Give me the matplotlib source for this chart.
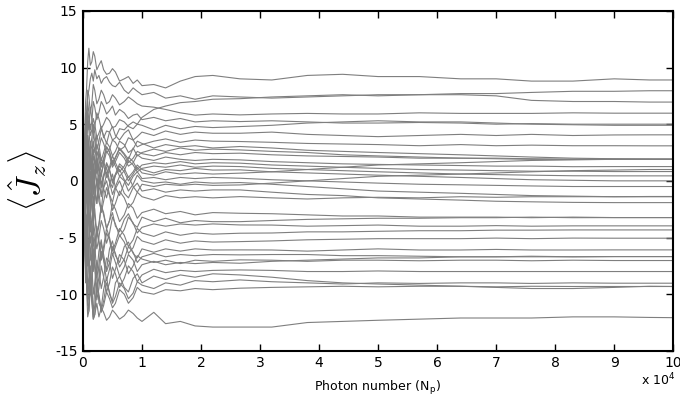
import matplotlib
matplotlib.use("Agg")
import matplotlib.pyplot as plt

# photon number, in units of 10^4 (dense where the runs are noisy)
X_EARLY = [0, 0.015, 0.03, 0.045, 0.06, 0.08, 0.1, 0.125, 0.15, 0.175, 0.2, 0.235, 0.27,
           0.31, 0.35, 0.4, 0.45, 0.5, 0.55, 0.62, 0.7, 0.77, 0.85, 0.92, 1.0]
X_LATE = [1.2, 1.4, 1.65, 1.9, 2.2, 2.66, 3.2, 3.8, 4.4, 5.0, 5.7, 6.4, 7.0, 7.6, 8.3, 9.0, 9.6, 10]

# <Jz> for each run: first part up to 1e4 photons ...
JZ_EARLY = [
    [0, 3, 4, 7, 8, 10.5, 11.7, 10.2, 10.5, 11.4, 11.0, 9.8, 10.2, 10.6, 9.8, 9.4, 9.5, 9.9, 9.6, 8.8, 9.0, 9.2, 8.6, 8.9, 8.4],
    [0, 1, 3, 5, 6, 7.5, 8, 9.0, 9.5, 8.8, 9.8, 9.0, 9.3, 8.6, 9.0, 9.2, 8.7, 8.4, 8.3, 8.7, 8.0, 7.7, 8.2, 7.9, 7.6],
    [0, 1.5, 2, 3.5, 4, 6, 5.5, 4.0, 4.5, 5.5, 5.0, 3.8, 4.2, 4.8, 3.8, 4.4, 4.3, 3.6, 3.8, 4.6, 4.5, 4.9, 5.2, 5.0, 5.6],
    [0, 2, 3, 6, 5, 8, 7.5, 6.0, 6.8, 8.5, 8.0, 6.8, 7.2, 8.0, 7.6, 6.8, 7.0, 7.6, 7.3, 6.7, 7.0, 7.4, 7.1, 6.8, 6.6],
    [0, -1, 2, 5, 4, 7, 6, 4.5, 5.2, 7.0, 6.5, 5.4, 6.0, 7.0, 6.6, 5.9, 6.2, 6.6, 5.8, 6.3, 6.0, 5.5, 5.8, 5.9, 5.4],
    [0, 2.5, 1.5, 4, 3, 6, 4.5, 6.5, 5.5, 4.2, 4.8, 6.0, 5.5, 4.6, 5.0, 5.6, 5.3, 4.7, 4.8, 5.4, 5.2, 4.8, 4.6, 5.0, 4.9],
    [0, -2, 1, 2, 3, 5.5, 4.5, 2.8, 3.8, 5.0, 4.2, 2.8, 3.5, 4.6, 4.0, 3.3, 4.3, 4.8, 4.0, 3.6, 4.2, 4.5, 3.6, 3.9, 4.3],
    [0, 1, -1, 0, 1.5, 4, 3, 1.2, 2.0, 4.2, 3.5, 2.2, 2.8, 3.8, 3.3, 2.5, 2.8, 3.6, 3.4, 2.7, 3.0, 3.8, 3.6, 3.0, 3.2],
    [0, 3, 2, 0, 1, 4, 3, 1.0, 1.8, 3.5, 2.5, 4.0, 3.2, 1.8, 2.5, 3.4, 3.0, 2.2, 2.6, 3.5, 3.2, 2.5, 2.8, 3.5, 3.3],
    [0, -1, 1, 3.5, 2.5, 0.5, 1.5, 3.5, 2.8, 1.0, 2.0, 3.2, 2.5, 1.5, 1.8, 3.0, 2.6, 1.6, 2.1, 2.9, 2.4, 1.9, 2.9, 2.2, 2.5],
    [0, 1, -1, -2, 0.5, 3, 2, -0.5, 1.0, 2.8, 1.8, 0.6, 2.6, 1.2, 2.0, 3.0, 2.5, 1.4, 2.0, 2.8, 2.3, 1.6, 2.0, 2.6, 2.4],
    [0, 2, 1, 2.5, -0.5, -1.5, 1.5, 3.0, 0.5, -0.8, 1.2, 2.6, 2.0, 0.6, 1.5, 2.6, 2.2, 1.2, 1.7, 2.5, 2.0, 1.3, 1.6, 2.3, 2.0],
    [0, -1.5, 0.5, 3.5, 2, -0.5, 0.8, 2.5, 1.5, -0.8, 0.3, 2.2, 1.0, 0.4, 1.8, 0.6, 1.2, 2.2, 1.6, 0.8, 1.3, 2.1, 1.7, 1.0, 1.4],
    [0, 1, -0.5, -2, 1, 2.5, -0.5, -1.8, 0.8, 2.2, 1.5, -0.2, 0.6, 2.0, 1.4, 0.3, 1.0, 1.8, 1.3, 0.4, 0.9, 1.8, 1.4, 0.8, 1.1],
    [0, 2.5, 1.5, -1, 0.5, 4, 2.5, 0.5, 1.0, -1.2, 0.0, 2.0, 1.2, -0.3, 0.5, 1.6, 1.0, 0.0, 0.6, 1.5, 1.1, 0.3, 0.8, 1.4, 1.0],
    [0, -2.5, -1, 1.5, 0.5, -2, -0.5, 2.0, 1.0, -1.0, 0.2, 1.8, 0.8, -0.6, 0.3, 1.5, 0.9, -0.2, 0.5, 1.3, 0.8, 0.0, 0.6, 1.2, 0.7],
    [0, -3, -1.5, 1, -0.5, -3, 0.5, 2.0, -0.8, -2.0, 0.3, 1.5, -0.5, -1.2, 0.4, 1.2, 0.0, -0.6, 0.5, 1.0, 0.1, -0.4, 0.4, 0.8, 0.2],
    [0, 2, 0.5, -2.5, -1.0, 1.5, 0.0, -3.0, -1.5, 0.8, -0.5, -2.0, 0.3, -1.4, -0.6, 0.6, -0.1, -1.2, -0.5, 0.4, 0.0, -0.9, -0.3, 0.5, 0.0],
    [0, 1.5, -0.5, -2, 1.0, 2.5, -1.0, -2.2, 0.2, 1.2, -0.8, -2.0, -0.2, 0.8, -0.7, -1.5, -0.3, 0.6, -0.6, -1.3, -0.2, 0.4, -0.5, -1.0, -0.3],
    [0, -3.5, -2, 0.5, -0.5, -3, -1.5, 0.5, -2.5, -3.5, -1.0, 0.2, -1.8, -2.6, -0.6, 0.0, -1.2, -1.9, -0.7, 0.0, -1.1, -1.5, -0.6, -0.2, -0.9],
    [0, -1, 1, 2.5, -1.0, -4, -2.5, 0.0, -1.2, -3.5, -2.0, 0.0, -1.0, -2.8, -1.8, -0.6, -1.3, -2.6, -2.0, -0.9, -1.5, -2.4, -1.9, -1.0, -1.4],
    [0, -1, -2, -5, -4, -1.5, -3, -5.5, -4.5, -2.0, -3.2, -4.8, -4.0, -2.2, -2.8, -4.2, -3.5, -2.0, -2.5, -3.6, -3.0, -2.0, -2.4, -3.3, -2.8],
    [0, 2.5, 1, -1.5, -1, 0.5, -2, -4.5, -3.5, -1.8, -2.5, -4.8, -3.8, -2.2, -3.0, -4.2, -3.5, -2.8, -4.0, -4.5, -3.4, -2.9, -3.8, -4.1, -3.2],
    [0, -1.5, -3, -6, -5, -2.5, -4, -6.5, -5.5, -3.5, -4.5, -6.0, -5.0, -3.5, -4.2, -5.5, -4.6, -3.2, -3.8, -4.9, -4.3, -3.2, -3.7, -4.6, -4.1],
    [0, 0.5, -1.5, -4, -3, -6.5, -5, -2.8, -4, -7.0, -6, -4.0, -5.2, -6.8, -5.8, -4.2, -5.0, -6.2, -5.5, -4.2, -4.8, -5.8, -5.2, -4.2, -4.6],
    [0, -3, -2, -5, -4, -7.5, -6, -3.5, -5, -8.0, -6.5, -4.5, -5.5, -7.0, -6.2, -4.6, -5.2, -6.6, -5.8, -4.8, -5.4, -6.4, -5.9, -4.9, -5.3],
    [0, -2, -4, -7.5, -6, -3.5, -8, -9.0, -6.5, -5.0, -7.5, -8.2, -6.2, -5.2, -7.0, -7.8, -6.0, -5.3, -6.6, -7.2, -5.8, -5.4, -6.4, -6.8, -6.0],
    [0, 1, -2, -4, -5, -2, -3.5, -7.0, -6.5, -4.0, -5.5, -8.5, -7.5, -5.5, -6.5, -8.0, -7.2, -5.8, -6.4, -7.6, -6.9, -5.8, -6.3, -7.2, -6.7],
    [0, -1, -3, -5, -6, -9.5, -8.5, -6.0, -7.5, -10.0, -9.0, -7.0, -8.0, -9.5, -8.5, -6.8, -7.2, -8.6, -7.8, -6.5, -7.0, -8.2, -7.5, -6.6, -6.9],
    [0, -3, -5, -9, -8, -5.0, -6.5, -10.0, -9, -6.0, -7.5, -9.8, -8.5, -6.2, -7.0, -8.8, -7.8, -6.4, -7.2, -8.4, -7.6, -6.5, -7.0, -8.0, -7.4],
    [0, -3.5, -2, -6, -4.5, -7.5, -7, -10.0, -8.5, -6.5, -7.5, -10.5, -9.5, -7.5, -8.5, -9.8, -9.0, -7.6, -8.2, -9.4, -8.6, -7.5, -8.0, -8.9, -8.3],
    [0, -1.5, -3, -5.5, -7, -10.5, -9, -7.5, -10.5, -11.5, -9.5, -8.0, -10.8, -11.2, -9.6, -8.5, -10.0, -10.6, -9.0, -8.4, -9.4, -9.8, -8.6, -8.2, -9.0],
    [0, -2, -4, -6, -8, -11, -10, -8.0, -9.0, -12.0, -11.0, -9.0, -10.0, -11.4, -10.6, -9.0, -9.8, -10.8, -10.2, -9.0, -9.5, -10.4, -9.9, -8.9, -9.2],
    [0, -2.5, -5, -7.5, -9, -12, -11.5, -9.0, -10.5, -12.2, -11.8, -9.5, -10.2, -11.6, -11.0, -9.8, -10.4, -11.2, -10.8, -9.6, -10.0, -10.8, -10.3, -9.4, -9.8],
    [0, -3, -6, -8, -9, -10.5, -11.5, -9.5, -10.5, -12.2, -11.8, -10.8, -12.0, -11.2, -11.6, -12.3, -12.0, -11.4, -11.7, -12.2, -11.9, -11.4, -11.7, -12.1, -12.4],
]

# ... and the settled part from 1.2e4 photons to the end
JZ_LATE = [
    [8.5, 8.2, 8.8, 9.2, 9.3, 9.0, 8.9, 9.3, 9.4, 9.2, 9.2, 9.0, 9.0, 8.8, 8.8, 9.0, 8.9, 8.9],
    [7.8, 7.3, 7.5, 7.2, 7.5, 7.4, 7.3, 7.4, 7.5, 7.6, 7.6, 7.7, 7.7, 7.8, 7.9, 7.9, 7.95, 7.95],
    [6.3, 6.6, 6.9, 7.0, 7.2, 7.25, 7.4, 7.5, 7.6, 7.5, 7.6, 7.6, 7.5, 7.1, 7.0, 7.0, 6.95, 6.95],
    [6.5, 6.3, 6.0, 5.8, 5.9, 5.82, 5.9, 5.95, 5.9, 5.9, 6.0, 5.95, 5.95, 5.95, 6.0, 5.97, 5.97, 5.97],
    [5.6, 5.3, 5.5, 5.2, 5.3, 5.23, 5.3, 5.2, 5.1, 5.1, 5.15, 5.1, 5.0, 5.05, 5.0, 5.0, 5.0, 5.0],
    [4.5, 4.9, 4.6, 4.8, 4.7, 4.79, 4.9, 5.1, 5.2, 5.3, 5.2, 5.2, 5.1, 5.0, 4.95, 4.9, 4.9, 4.9],
    [4.0, 4.4, 4.1, 4.3, 4.2, 4.2, 4.3, 4.1, 4.0, 3.9, 4.0, 4.1, 4.0, 4.1, 4.0, 4.05, 4.06, 4.06],
    [3.5, 3.7, 3.4, 3.6, 3.5, 3.47, 3.4, 3.3, 3.25, 3.2, 3.1, 3.2, 3.1, 3.15, 3.1, 3.1, 3.09, 3.09],
    [2.9, 3.2, 3.0, 3.1, 2.9, 3.03, 2.9, 2.7, 2.6, 2.5, 2.4, 2.3, 2.2, 2.1, 2.0, 1.95, 1.92, 1.91],
    [2.8, 2.6, 2.9, 2.7, 2.8, 2.73, 2.6, 2.5, 2.3, 2.2, 2.1, 2.0, 2.0, 1.95, 1.9, 1.9, 1.91, 1.91],
    [2.2, 2.5, 2.3, 2.5, 2.4, 2.44, 2.3, 2.2, 2.15, 2.1, 2.0, 2.0, 1.95, 1.9, 1.9, 1.92, 1.91, 1.91],
    [1.8, 2.1, 1.9, 1.8, 1.9, 1.85, 1.7, 1.6, 1.5, 1.45, 1.4, 1.35, 1.3, 1.3, 1.25, 1.26, 1.26, 1.26],
    [1.6, 1.5, 1.7, 1.5, 1.6, 1.56, 1.4, 1.3, 1.2, 1.1, 1.0, 0.95, 0.9, 0.85, 0.85, 0.82, 0.82, 0.82],
    [1.3, 1.2, 1.4, 1.2, 1.3, 1.26, 1.1, 1.0, 0.9, 0.8, 0.7, 0.6, 0.55, 0.5, 0.45, 0.44, 0.44, 0.44],
    [0.7, 1.0, 0.9, 1.1, 0.95, 0.97, 0.8, 0.7, 0.6, 0.5, 0.4, 0.3, 0.2, 0.1, 0.05, 0.0, 0.0, 0.0],
    [0.5, 0.8, 0.6, 0.7, 0.6, 0.68, 0.8, 1.0, 1.2, 1.4, 1.5, 1.6, 1.7, 1.8, 1.85, 1.9, 1.91, 1.91],
    [0.3, 0.1, 0.3, 0.2, 0.3, 0.23, 0.1, 0.0, -0.1, -0.2, -0.3, -0.35, -0.4, -0.45, -0.5, -0.5, -0.5, -0.5],
    [-0.2, -0.1, -0.3, -0.1, -0.2, -0.15, -0.3, -0.5, -0.7, -0.9, -1.0, -1.1, -1.2, -1.3, -1.35, -1.4, -1.4, -1.4],
    [-0.5, -0.3, -0.4, -0.3, -0.4, -0.36, -0.2, 0.0, 0.2, 0.4, 0.5, 0.6, 0.7, 0.8, 0.9, 0.95, 1.0, 1.0],
    [-0.7, -1.0, -0.8, -0.9, -0.8, -0.8, -1.0, -1.2, -1.3, -1.5, -1.6, -1.7, -1.8, -1.85, -1.9, -1.92, -1.92, -1.92],
    [-1.7, -1.3, -1.5, -1.4, -1.5, -1.39, -1.5, -1.6, -1.5, -1.45, -1.5, -1.4, -1.45, -1.4, -1.4, -1.4, -1.38, -1.38],
    [-2.5, -2.9, -2.7, -3.0, -2.8, -2.86, -2.9, -3.0, -3.1, -3.1, -3.2, -3.2, -3.2, -3.25, -3.2, -3.24, -3.24, -3.24],
    [-3.6, -3.3, -3.7, -3.5, -3.6, -3.6, -3.5, -3.4, -3.35, -3.3, -3.3, -3.25, -3.25, -3.2, -3.25, -3.24, -3.24, -3.24],
    [-3.8, -4.0, -3.8, -3.9, -3.8, -3.89, -3.9, -4.0, -3.95, -3.9, -4.0, -4.0, -3.95, -4.0, -3.97, -3.97, -3.97, -3.97],
    [-4.9, -4.5, -4.8, -4.6, -4.7, -4.62, -4.6, -4.5, -4.5, -4.45, -4.4, -4.4, -4.35, -4.35, -4.33, -4.33, -4.33, -4.33],
    [-5.6, -5.2, -5.5, -5.3, -5.4, -5.36, -5.3, -5.2, -5.15, -5.1, -5.1, -5.1, -5.05, -5.1, -5.05, -5.06, -5.06, -5.06],
    [-6.3, -6.0, -6.2, -6.0, -6.1, -6.09, -6.1, -6.2, -6.1, -6.0, -6.1, -6.1, -6.05, -6.1, -6.1, -6.09, -6.09, -6.09],
    [-6.4, -6.7, -6.5, -6.6, -6.5, -6.53, -6.5, -6.5, -6.6, -6.6, -6.65, -6.7, -6.7, -6.65, -6.7, -6.68, -6.68, -6.68],
    [-7.2, -7.0, -7.3, -7.0, -7.1, -6.97, -7.0, -7.1, -7.0, -7.0, -7.05, -7.0, -7.0, -7.05, -7.0, -7.03, -7.03, -7.03],
    [-7.1, -7.4, -7.2, -7.3, -7.2, -7.27, -7.1, -7.0, -6.9, -6.8, -6.8, -6.7, -6.7, -6.7, -6.7, -6.68, -6.68, -6.68],
    [-7.8, -8.1, -7.9, -8.0, -7.9, -7.86, -7.9, -8.0, -8.0, -7.95, -8.0, -8.0, -8.0, -8.0, -8.0, -8.0, -8.0, -8.0],
    [-8.4, -8.7, -8.3, -8.5, -8.2, -8.3, -8.5, -8.8, -9.0, -9.1, -9.2, -9.3, -9.4, -9.5, -9.5, -9.4, -9.3, -9.32],
    [-9.5, -9.0, -9.2, -8.8, -8.9, -8.74, -8.9, -9.0, -9.1, -9.0, -9.05, -9.0, -9.0, -9.05, -9.0, -9.03, -9.03, -9.03],
    [-10.0, -9.6, -9.7, -9.5, -9.6, -9.47, -9.4, -9.35, -9.3, -9.35, -9.3, -9.3, -9.35, -9.3, -9.32, -9.32, -9.32, -9.32],
    [-11.6, -12.6, -12.4, -12.8, -12.9, -12.9, -12.9, -12.5, -12.4, -12.3, -12.2, -12.1, -12.1, -12.1, -12.0, -12.0, -12.05, -12.07],
]

XTICKS = list(range(0, 11))
YTICKS = [-15, -10, -5, 0, 5, 10, 15]
YTICKLABELS = ["-15", "-10", "- 5", "0", "5", "10", "15"]

plt.rcParams["mathtext.fontset"] = "cm"
plt.rcParams["axes.unicode_minus"] = False

fig = plt.figure(figsize=(6.8, 4.01), dpi=100)
ax = fig.add_axes([0.122, 0.125, 0.868, 0.848])

x = X_EARLY + X_LATE
for early, late in zip(JZ_EARLY, JZ_LATE):
    ax.plot(x, early + late, color="#7f7f7f", lw=0.8)

ax.set_xlim(0, 10)
ax.set_ylim(-15, 15)
ax.set_xticks(XTICKS)
ax.set_xticklabels([str(t) for t in XTICKS])
ax.set_yticks(YTICKS)
ax.set_yticklabels(YTICKLABELS)
ax.tick_params(direction="in", length=5, width=1, top=True, right=True,
               labelsize=10, pad=4)
for s in ax.spines.values():
    s.set_linewidth(1.5)

ax.set_xlabel(r"Photon number (N$_\mathregular{p}$)", fontsize=9, labelpad=6)
ax.set_ylabel(r"$\left\langle \hat{J}_z \right\rangle$", fontsize=24, labelpad=4)
fig.text(0.994, 0.04, r"x 10$^\mathregular{4}$", ha="right", fontsize=9)

fig.savefig("out.png", dpi=100)
